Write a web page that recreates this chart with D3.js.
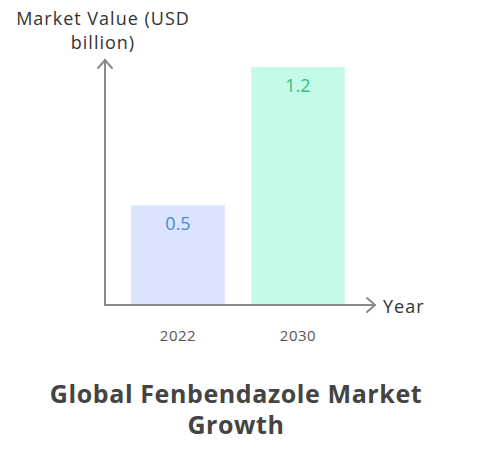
<!DOCTYPE html>
<html>
<head>
<meta charset="utf-8">
<script src="https://cdn.jsdelivr.net/npm/d3@7"></script>
<style>
  body { margin: 0; background: #fff; }
  svg { display: block; font-family: "Open Sans", "Noto Sans", sans-serif; }
  .axis-line { stroke: #8a8a8a; stroke-width: 2px; fill: none; stroke-linecap: round; }
  .tick-label { fill: #555; font-size: 15px; letter-spacing: 0.5px; }
  .axis-title { fill: #333; font-size: 18px; letter-spacing: 1px; }
  .title { fill: #444; font-size: 25px; font-weight: bold; letter-spacing: 0.6px; }
</style>
</head>
<body>
<svg id="chart" width="483" height="457"></svg>
<script>
  var years = ["2022", "2030"];
  var values = [0.5, 1.2];
  var barColors = ["#dbe4ff", "#c3fae8"];
  var labelColors = ["#4a86e0", "#35c07f"];

  var svg = d3.select("#chart");

  var margin = { left: 105, bottom: 305, top: 60, right: 375 };

  var x = d3.scaleBand()
      .domain(years)
      .range([118, 358])
      .paddingInner(0.22)
      .paddingOuter(0.11);

  var y = d3.scaleLinear()
      .domain([0, 1.2])
      .range([304, 67]);

  // bars
  svg.selectAll("rect.bar")
    .data(values)
    .enter().append("rect")
      .attr("class", "bar")
      .attr("x", function(d, i) { return x(years[i]); })
      .attr("y", function(d) { return y(d); })
      .attr("width", x.bandwidth())
      .attr("height", function(d) { return y(0) - y(d); })
      .attr("fill", function(d, i) { return barColors[i]; });

  // value labels
  svg.selectAll("text.value")
    .data(values)
    .enter().append("text")
      .attr("class", "value")
      .attr("x", function(d, i) { return x(years[i]) + x.bandwidth() / 2; })
      .attr("y", function(d) { return y(d) + 25; })
      .attr("text-anchor", "middle")
      .attr("font-size", 18)
      .attr("fill", function(d, i) { return labelColors[i]; })
      .text(function(d) { return d; });

  // axes
  svg.append("path").attr("class", "axis-line")
    .attr("d", "M" + margin.left + "," + margin.bottom + "V" + margin.top);
  svg.append("path").attr("class", "axis-line")
    .attr("d", "M" + (margin.left - 7) + "," + (margin.top + 8) + "L" + margin.left + "," + margin.top + "L" + (margin.left + 7) + "," + (margin.top + 8));
  svg.append("path").attr("class", "axis-line")
    .attr("d", "M" + margin.left + "," + margin.bottom + "H" + margin.right);
  svg.append("path").attr("class", "axis-line")
    .attr("d", "M" + (margin.right - 8) + "," + (margin.bottom - 7) + "L" + margin.right + "," + margin.bottom + "L" + (margin.right - 8) + "," + (margin.bottom + 7));

  // tick labels
  svg.selectAll("text.tick-label")
    .data(years)
    .enter().append("text")
      .attr("class", "tick-label")
      .attr("x", function(d) { return x(d) + x.bandwidth() / 2; })
      .attr("y", 341)
      .attr("text-anchor", "middle")
      .text(function(d) { return d; });

  // axis titles
  svg.append("text").attr("class", "axis-title")
    .attr("x", 383).attr("y", 313).text("Year");
  svg.append("text").attr("class", "axis-title")
    .attr("x", 103).attr("y", 25).attr("text-anchor", "middle")
    .text("Market Value (USD");
  svg.append("text").attr("class", "axis-title")
    .attr("x", 103).attr("y", 49).attr("text-anchor", "middle")
    .text("billion)");

  // chart title
  svg.append("text").attr("class", "title")
    .attr("x", 236).attr("y", 403).attr("text-anchor", "middle")
    .text("Global Fenbendazole Market");
  svg.append("text").attr("class", "title")
    .attr("x", 236).attr("y", 434).attr("text-anchor", "middle")
    .text("Growth");
</script>
</body>
</html>
